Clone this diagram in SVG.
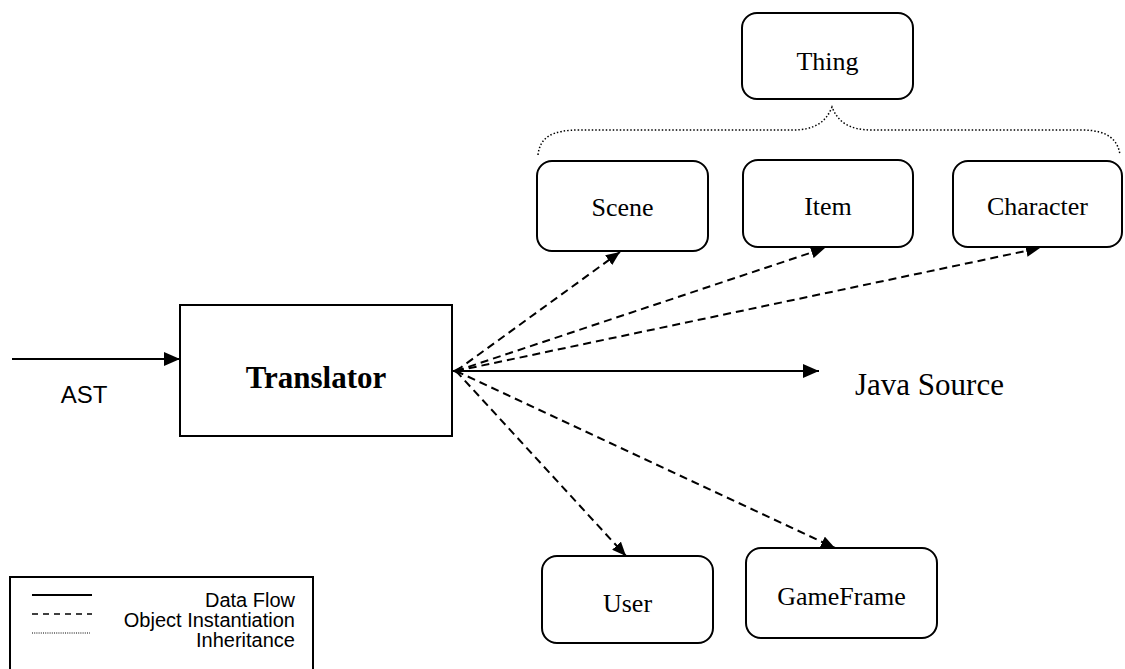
<svg xmlns="http://www.w3.org/2000/svg" width="1125" height="669" viewBox="0 0 1125 669">
<style>
.node{fill:#fff;stroke:#000;stroke-width:2}
.lbl{font-family:"Liberation Serif","Times New Roman",serif;font-size:26px;fill:#000;text-anchor:middle}
.sans{font-family:"Liberation Sans",Arial,sans-serif;fill:#000}
.solid{stroke:#000;stroke-width:2;fill:none}
.dash{stroke:#000;stroke-width:2;fill:none;stroke-dasharray:8 5}
.dot{stroke:#000;stroke-width:1.5;fill:none;stroke-dasharray:1.5 2}
</style>
<defs>
<marker id="arr" viewBox="0 0 14 12" refX="14" refY="6" markerWidth="14" markerHeight="12" markerUnits="userSpaceOnUse" orient="auto">
<path d="M0,0 L14,6 L0,12 z" fill="#000"/>
</marker>
<marker id="arrBig" viewBox="0 0 16 14" refX="16" refY="7" markerWidth="16" markerHeight="14" markerUnits="userSpaceOnUse" orient="auto">
<path d="M0,0 L16,7 L0,14 z" fill="#000"/>
</marker>
</defs>
<rect width="1125" height="669" fill="#fff"/>
<g id="connectors">
<line class="solid" x1="12" y1="359" x2="180" y2="359" marker-end="url(#arrBig)"/>
<line class="solid" x1="452" y1="371" x2="819" y2="371" marker-end="url(#arrBig)"/>
<path d="M452,371 L460,367 L460,375 z" fill="#000"/>
<line class="dash" x1="456" y1="371" x2="620" y2="252" marker-end="url(#arr)"/>
<line class="dash" x1="456" y1="371" x2="825" y2="248" marker-end="url(#arr)"/>
<line class="dash" x1="456" y1="371" x2="1040" y2="248" marker-end="url(#arr)"/>
<line class="dash" x1="456" y1="371" x2="626" y2="556" marker-end="url(#arr)"/>
<line class="dash" x1="456" y1="371" x2="835" y2="548" marker-end="url(#arr)"/>
<path class="dot" d="M538,155 C540,137 552,130 580,130 L792,130 C815,130 826,122 832,107 C838,122 849,130 872,130 L1082,130 C1108,130 1118,140 1120,155"/>
</g>
<g id="ast-label"><text class="sans" x="84" y="403" font-size="24" text-anchor="middle">AST</text></g>
<g id="translator">
<rect x="180" y="305" width="272" height="131" fill="#fff" stroke="#000" stroke-width="2"/>
<text x="316" y="388" text-anchor="middle" font-family="'Liberation Serif','Times New Roman',serif" font-weight="bold" font-size="31">Translator</text>
</g>
<g id="java-source"><text x="855" y="395" font-family="'Liberation Serif','Times New Roman',serif" font-size="31">Java Source</text></g>
<g id="thing"><rect class="node" x="742" y="13" width="171" height="86" rx="15"/><text class="lbl" x="827.5" y="70">Thing</text></g>
<g id="scene"><rect class="node" x="537" y="161" width="171" height="90" rx="15"/><text class="lbl" x="622.5" y="216">Scene</text></g>
<g id="item"><rect class="node" x="743" y="160" width="170" height="87" rx="15"/><text class="lbl" x="828" y="215">Item</text></g>
<g id="character"><rect class="node" x="953" y="161" width="169" height="86" rx="15"/><text class="lbl" x="1037.5" y="215">Character</text></g>
<g id="user"><rect class="node" x="542" y="556" width="171" height="87" rx="15"/><text class="lbl" x="627.5" y="612">User</text></g>
<g id="gameframe"><rect class="node" x="746" y="548" width="191" height="90" rx="15"/><text class="lbl" x="841.5" y="605">GameFrame</text></g>
<g id="legend">
<rect x="10" y="577" width="303" height="100" fill="#fff" stroke="#000" stroke-width="2"/>
<line class="solid" x1="32" y1="595" x2="92" y2="595"/>
<line x1="32" y1="614" x2="92" y2="614" stroke="#000" stroke-width="1.5" stroke-dasharray="6 5"/>
<line x1="32" y1="633" x2="90" y2="633" stroke="#000" stroke-width="1" stroke-dasharray="1 1.2"/>
<text class="sans" x="295" y="607" font-size="20" text-anchor="end">Data Flow</text>
<text class="sans" x="295" y="627" font-size="20" text-anchor="end">Object Instantiation</text>
<text class="sans" x="295" y="647" font-size="20" text-anchor="end">Inheritance</text>
</g>
</svg>
